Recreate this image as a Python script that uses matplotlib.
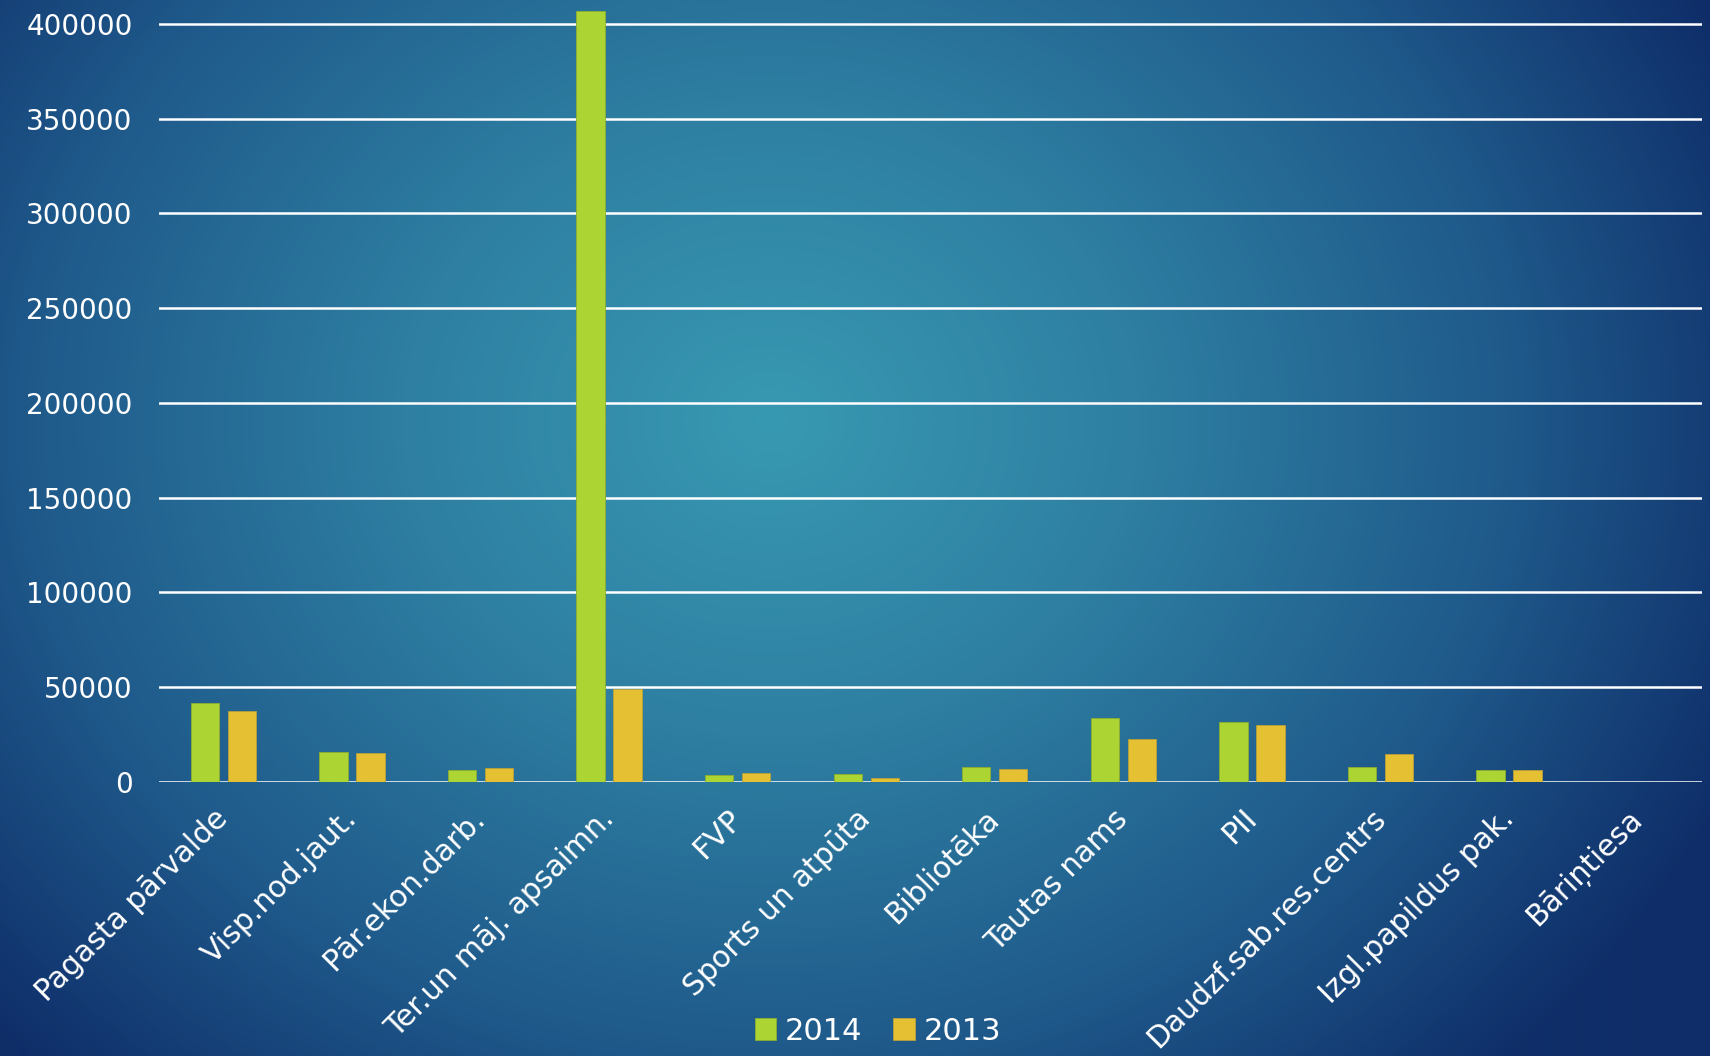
import numpy as np
import matplotlib
matplotlib.use("Agg")
import matplotlib.pyplot as plt
import matplotlib.transforms as mtransforms
from matplotlib.colors import LinearSegmentedColormap

categories = ["Pagasta pārvalde", "Visp.nod.jaut.", "Pār.ekon.darb.", "Ter.un māj. apsaimn.",
              "FVP", "Sports un atpūta", "Bibliotēka", "Tautas nams", "PII",
              "Daudzf.sab.res.centrs", "Izgl.papildus pak.", "Bāriņtiesa"]
values_2014 = [41500, 15900, 6200, 407000, 3500, 3900, 7600, 33700, 31300, 7600, 6200, 0]
values_2013 = [37300, 15200, 7200, 49100, 4800, 2100, 6700, 22300, 29900, 14800, 6400, 0]
series_labels = ["2014", "2013"]
yticks = [0, 50000, 100000, 150000, 200000, 250000, 300000, 350000, 400000]

plt.rcParams['font.family'] = ['DejaVu Sans']

W, H = 1710, 1056
fig = plt.figure(figsize=(W / 100, H / 100), dpi=100)

# background gradient
bg = fig.add_axes([0, 0, 1, 1], zorder=-10)
yy, xx = np.mgrid[0:H, 0:W]
cx, cy = 770, 420
d = np.sqrt(((xx - cx) / 1050.0) ** 2 + ((yy - cy) / 900.0) ** 2)
d = np.clip(d, 0, 1)
cmap = LinearSegmentedColormap.from_list(
    "bg", [(0.0, "#3899b2"), (0.35, "#2e7fa2"), (0.7, "#1f5a8b"), (1.0, "#0f2e69")])
bg.imshow(d, cmap=cmap, vmin=0, vmax=1, aspect="auto", interpolation="bilinear")
bg.axis("off")

ax = fig.add_axes([159 / W, 1 - 781.7 / H, (1702 - 159) / W, (781.7 - 6) / H])
ax.patch.set_alpha(0)

x = np.arange(len(categories))
w = 0.22
off = 0.144
ax.bar(x - off, values_2014, w, color="#acd432", edgecolor="#8fae2e", linewidth=0.6,
       label=series_labels[0], zorder=3)
ax.bar(x + off, values_2013, w, color="#e5c033", edgecolor="#b9a03a", linewidth=0.6,
       label=series_labels[1], zorder=3)

ax.set_xlim(-0.5, len(categories) - 0.5)
ax.set_ylim(0, 400000 * (781.7 - 6) / (781.7 - 24))
ax.set_yticks(yticks)
ax.set_yticklabels([str(v) for v in yticks])
ax.yaxis.grid(True, color="white", linewidth=1.8, zorder=1)
ax.set_axisbelow(True)
for s in ax.spines.values():
    s.set_visible(False)
ax.tick_params(axis="both", length=0, colors="white")
ax.tick_params(axis="y", pad=19, labelsize=20)
ax.set_xticks(x)
ax.set_xticklabels(categories, rotation=45, ha="right", rotation_mode="anchor",
                   color="white", fontsize=21.5)
ax.tick_params(axis="x", pad=16)
offset = mtransforms.ScaledTranslation(-10 / 100, 0, fig.dpi_scale_trans)
for lbl in ax.get_xticklabels():
    lbl.set_transform(lbl.get_transform() + offset)
for lbl in ax.get_yticklabels():
    lbl.set_color("white")

leg = fig.legend(loc="center", bbox_to_anchor=(878 / W, 1 - 1031 / H), ncol=2,
                 frameon=False, fontsize=22, handlelength=0.7, handleheight=0.7,
                 handletextpad=0.3, columnspacing=1.0, labelcolor="white")

fig.savefig("out.png", dpi=100)
